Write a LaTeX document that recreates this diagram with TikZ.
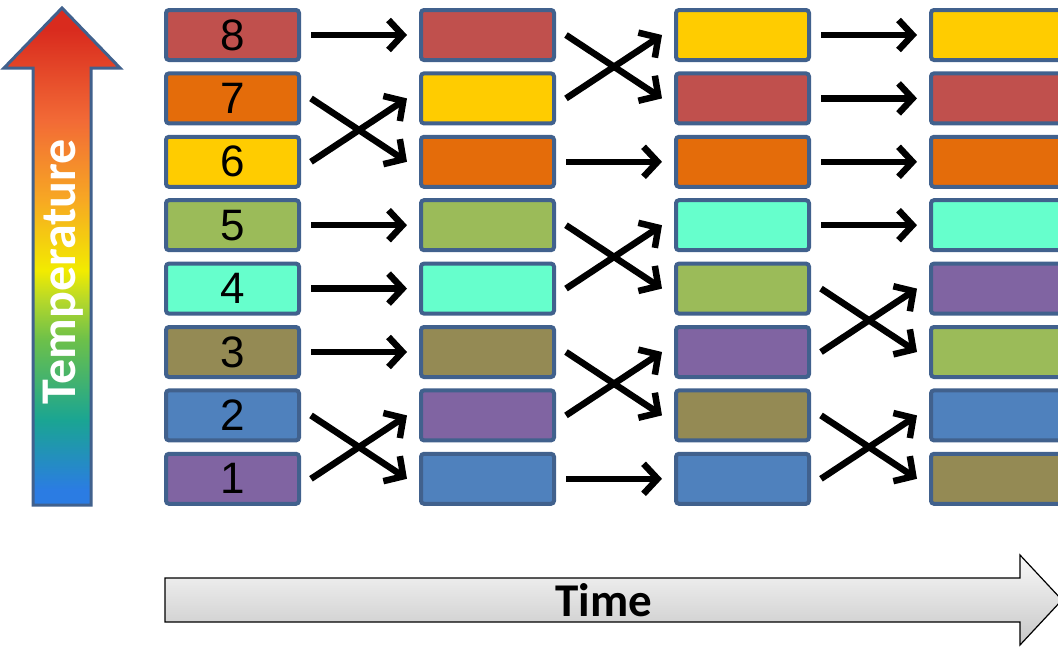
\documentclass[tikz,border=0pt]{standalone}
\usepackage{fontspec}
\setmainfont{Liberation Sans}
\newfontfamily\calfont{Carlito}
\usetikzlibrary{arrows.meta}
\definecolor{cRed}{HTML}{C0504D}
\definecolor{cOrange}{HTML}{E46C0A}
\definecolor{cYellow}{HTML}{FFCC00}
\definecolor{cGreen}{HTML}{9BBB59}
\definecolor{cAqua}{HTML}{66FFCC}
\definecolor{cOlive}{HTML}{948A54}
\definecolor{cBlue}{HTML}{4F81BD}
\definecolor{cPurple}{HTML}{8064A2}
\definecolor{bordercol}{HTML}{41618D}
\definecolor{tBlue}{HTML}{2B7CE3}
\definecolor{tTeal}{HTML}{1AA592}
\definecolor{tGreen}{HTML}{6CC04A}
\definecolor{tYG}{HTML}{B5D82A}
\definecolor{tYellow}{HTML}{F2EB00}
\definecolor{tYO}{HTML}{F7A823}
\definecolor{tOrange}{HTML}{F26A36}
\definecolor{tRed}{HTML}{D92B1E}
\pgfdeclareverticalshading{tempshade}{100bp}{color(0bp)=(tBlue); color(26.5bp)=(tBlue); color(33.6bp)=(tTeal); color(41.6bp)=(tGreen); color(45.6bp)=(tYG); color(48.6bp)=(tYellow); color(55.7bp)=(tYO); color(63.7bp)=(tOrange); color(72.8bp)=(tRed); color(100bp)=(tRed)}
\tikzset{
  box/.style={draw=bordercol, line width=4pt, rounded corners=3pt, minimum width=133pt, minimum height=50pt, inner sep=0pt, font=\fontsize{44}{44}\selectfont},
  arr/.style={line width=6.5pt, -{Straight Barb[length=14pt,width=30pt]}},
}
\begin{document}
\begin{tikzpicture}[x=1pt,y=-1pt]
\useasboundingbox (0,0) rectangle (1058,648);
% Temperature arrow
\path[shading=tempshade, draw=bordercol, line width=3pt, line join=miter]
  (33,505) -- (91,505) -- (91,68) -- (120,68) -- (62,8) -- (4,68) -- (33,68) -- cycle;
\node[rotate=90, text=white, font=\calfont\bfseries\fontsize{50}{50}\selectfont] (temp) at (63,272) {Temperature};
% Time arrow
\path[top color=white!95!gray, bottom color=black!22, draw=black, line width=1.2pt]
  (165,578) -- (1020,578) -- (1020,555) -- (1062,600) -- (1020,645) -- (1020,622) -- (165,622) -- cycle;
\node[text=black, font=\calfont\bfseries\fontsize{47}{47}\selectfont] (time) at (604,600) {Time};
% rows
\def\ya{478.8}\def\yb{415.4}\def\yc{352}\def\yd{288.6}\def\ye{225.2}\def\yf{161.8}\def\yg{98.4}\def\yh{35}
% column 1
\node[box, fill=cRed] (a8) at (232.5,\yh) {8};
\node[box, fill=cOrange] (a7) at (232.5,\yg) {7};
\node[box, fill=cYellow] (a6) at (232.5,\yf) {6};
\node[box, fill=cGreen] (a5) at (232.5,\ye) {5};
\node[box, fill=cAqua] (a4) at (232.5,\yd) {4};
\node[box, fill=cOlive] (a3) at (232.5,\yc) {3};
\node[box, fill=cBlue] (a2) at (232.5,\yb) {2};
\node[box, fill=cPurple] (a1) at (232.5,\ya) {1};
% column 2
\node[box, fill=cRed] (b8) at (487.5,\yh) {};
\node[box, fill=cYellow] (b7) at (487.5,\yg) {};
\node[box, fill=cOrange] (b6) at (487.5,\yf) {};
\node[box, fill=cGreen] (b5) at (487.5,\ye) {};
\node[box, fill=cAqua] (b4) at (487.5,\yd) {};
\node[box, fill=cOlive] (b3) at (487.5,\yc) {};
\node[box, fill=cPurple] (b2) at (487.5,\yb) {};
\node[box, fill=cBlue] (b1) at (487.5,\ya) {};
% column 3
\node[box, fill=cYellow] (c8) at (742.5,\yh) {};
\node[box, fill=cRed] (c7) at (742.5,\yg) {};
\node[box, fill=cOrange] (c6) at (742.5,\yf) {};
\node[box, fill=cAqua] (c5) at (742.5,\ye) {};
\node[box, fill=cGreen] (c4) at (742.5,\yd) {};
\node[box, fill=cPurple] (c3) at (742.5,\yc) {};
\node[box, fill=cOlive] (c2) at (742.5,\yb) {};
\node[box, fill=cBlue] (c1) at (742.5,\ya) {};
% column 4
\node[box, fill=cYellow] (d8) at (997.5,\yh) {};
\node[box, fill=cRed] (d7) at (997.5,\yg) {};
\node[box, fill=cOrange] (d6) at (997.5,\yf) {};
\node[box, fill=cAqua] (d5) at (997.5,\ye) {};
\node[box, fill=cPurple] (d4) at (997.5,\yd) {};
\node[box, fill=cGreen] (d3) at (997.5,\yc) {};
\node[box, fill=cBlue] (d2) at (997.5,\yb) {};
\node[box, fill=cOlive] (d1) at (997.5,\ya) {};
% arrows col1 -> col2
\foreach \s/\t in {a8/b8, a7/b6, a6/b7, a5/b5, a4/b4, a3/b3, a2/b1, a1/b2}
  \draw[arr] ([xshift=10pt]\s.east) -- ([xshift=-12pt]\t.west);
% arrows col2 -> col3
\foreach \s/\t in {b8/c7, b7/c8, b6/c6, b5/c4, b4/c5, b3/c2, b2/c3, b1/c1}
  \draw[arr] ([xshift=10pt]\s.east) -- ([xshift=-12pt]\t.west);
% arrows col3 -> col4
\foreach \s/\t in {c8/d8, c7/d7, c6/d6, c5/d5, c4/d3, c3/d4, c2/d1, c1/d2}
  \draw[arr] ([xshift=10pt]\s.east) -- ([xshift=-12pt]\t.west);
\end{tikzpicture}
\end{document}
